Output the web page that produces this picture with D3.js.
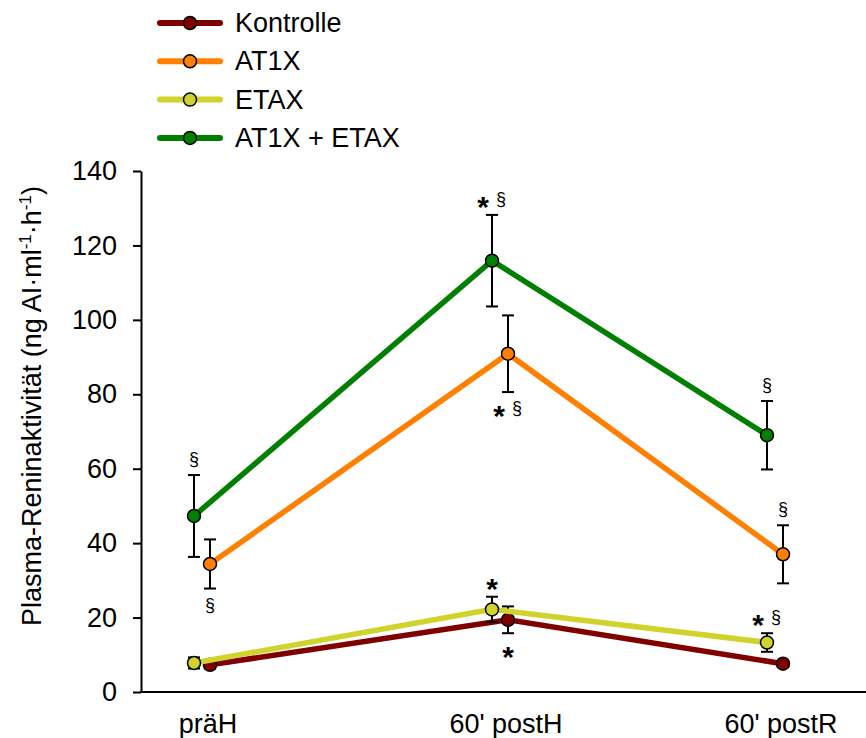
<!DOCTYPE html>
<html>
<head>
<meta charset="utf-8">
<script src="https://d3js.org/d3.v7.min.js"></script>
<style>
  body { margin: 0; background: #fff; }
  text { font-family: "Liberation Sans", Arial, sans-serif; }
</style>
</head>
<body>
<svg id="chart"></svg>
<script>
  // time points
  var categories = ["präH", "60' postH", "60' postR"];
  var yTicks = [0, 20, 40, 60, 80, 100, 120, 140];

  // group means and SE
  var seriesNames = ["Kontrolle", "AT1X", "ETAX", "AT1X + ETAX"];
  var kontrolle = [7.3, 19.4, 7.6];
  var kontrolleErr = [1.0, 3.6, 0.8];
  var at1x = [34.4, 90.9, 37.0];
  var at1xErr = [6.6, 10.3, 7.8];
  var etax = [7.8, 22.2, 13.3];
  var etaxErr = [1.5, 3.4, 2.5];
  var at1xEtax = [47.3, 115.9, 69.0];
  var at1xEtaxErr = [11.0, 12.3, 9.2];

  // significance marks per time point (* vs. präH, § vs. Kontrolle)
  var kontrolleSig = ["", "*", ""];
  var at1xSig = ["§", "*§", "§"];
  var etaxSig = ["", "*", "*§"];
  var at1xEtaxSig = ["§", "*§", "§"];
  var at1xSigSide = ["below", "below", "above"];

  var width = 866, height = 738;
  var svg = d3.select('#chart').attr('width', width).attr('height', height);

  var colors = ["#800000", "#ff8000", "#d0d32c", "#008000"];
  var offsets = [8, 8, -8, -8];

  var x = d3.scaleOrdinal().domain(categories).range([202, 500, 775]);
  var y = d3.scaleLinear().domain([0, 140]).range([692, 171]);

  var series = [
    {name: seriesNames[0], vals: kontrolle, err: kontrolleErr, sig: kontrolleSig, side: ["below", "below", "below"]},
    {name: seriesNames[1], vals: at1x, err: at1xErr, sig: at1xSig, side: at1xSigSide},
    {name: seriesNames[2], vals: etax, err: etaxErr, sig: etaxSig, side: ["above", "above", "above"]},
    {name: seriesNames[3], vals: at1xEtax, err: at1xEtaxErr, sig: at1xEtaxSig, side: ["above", "above", "above"]}
  ];

  // axes
  var yAxis = d3.axisLeft(y).tickValues(yTicks).tickSize(8).tickSizeOuter(0).tickPadding(16);
  var gy = svg.append('g').attr('transform', 'translate(141,0)').call(yAxis);
  gy.selectAll('path, line').attr('stroke', '#000').attr('stroke-width', 2);
  gy.selectAll('text').attr('font-size', 27).attr('fill', '#000')
    .style('font-family', '"Liberation Sans", Arial, sans-serif');

  svg.append('line')
    .attr('x1', 140).attr('x2', width)
    .attr('y1', y(0)).attr('y2', y(0))
    .attr('stroke', '#000').attr('stroke-width', 2);

  svg.selectAll('.xlab')
    .data(categories)
    .enter().append('text')
    .attr('class', 'xlab')
    .attr('x', function(d) { return x(d) + 6; })
    .attr('y', 733)
    .attr('text-anchor', 'middle')
    .attr('font-size', 27)
    .text(function(d) { return d; });

  // y axis title with superscripts
  var title = svg.append('text')
    .attr('transform', 'translate(41,406) rotate(-90)')
    .attr('text-anchor', 'middle')
    .attr('font-size', 27);
  title.append('tspan').text('Plasma-Reninaktivität (ng AI·ml');
  title.append('tspan').attr('font-size', 17).attr('dy', -10).text('-1');
  title.append('tspan').attr('dy', 10).text('·h');
  title.append('tspan').attr('font-size', 17).attr('dy', -10).text('-1');
  title.append('tspan').attr('dy', 10).text(')');

  var line = d3.line()
    .x(function(d) { return d.x; })
    .y(function(d) { return y(d.v); });

  series.forEach(function(s, si) {
    var pts = categories.map(function(c, i) {
      return {x: x(c) + offsets[si], v: s.vals[i], e: s.err[i], sig: s.sig[i], side: s.side[i]};
    });
    var g = svg.append('g');

    g.append('path')
      .attr('d', line(pts))
      .attr('fill', 'none')
      .attr('stroke', colors[si])
      .attr('stroke-width', 5.5);

    // error bars
    var eb = g.selectAll('.err').data(pts).enter().append('g').attr('class', 'err');
    eb.append('line')
      .attr('x1', function(d) { return d.x; }).attr('x2', function(d) { return d.x; })
      .attr('y1', function(d) { return y(d.v - d.e); })
      .attr('y2', function(d) { return y(d.v + d.e); })
      .attr('stroke', '#000').attr('stroke-width', 2);
    [1, -1].forEach(function(sgn) {
      eb.append('line')
        .attr('x1', function(d) { return d.x - 6; }).attr('x2', function(d) { return d.x + 6; })
        .attr('y1', function(d) { return y(d.v + sgn * d.e); })
        .attr('y2', function(d) { return y(d.v + sgn * d.e); })
        .attr('stroke', '#000').attr('stroke-width', 2);
    });

    g.selectAll('circle').data(pts).enter().append('circle')
      .attr('cx', function(d) { return d.x; })
      .attr('cy', function(d) { return y(d.v); })
      .attr('r', 6.5)
      .attr('fill', colors[si])
      .attr('stroke', '#000')
      .attr('stroke-width', 1.5);

    // significance marks
    pts.forEach(function(d) {
      if (!d.sig) return;
      var cy = d.side === 'above' ? y(d.v + d.e) - 15 : y(d.v - d.e) + 17;
      var marks = d.sig.split('');
      marks.forEach(function(m, mi) {
        var mx = marks.length === 2 ? d.x + (mi === 0 ? -9 : 9) : d.x;
        if (m === '*') {
          svg.append('text').attr('x', mx).attr('y', cy + 17)
            .attr('text-anchor', 'middle').attr('font-size', 30).attr('font-weight', 'bold')
            .text('*');
        } else {
          svg.append('text').attr('x', mx).attr('y', cy + 5)
            .attr('text-anchor', 'middle').attr('font-size', 18)
            .text('§');
        }
      });
    });
  });

  // legend
  var legend = svg.append('g');
  seriesNames.forEach(function(name, i) {
    var ly = 23 + i * 38.3;
    legend.append('line')
      .attr('x1', 160).attr('x2', 220).attr('y1', ly).attr('y2', ly)
      .attr('stroke', colors[i]).attr('stroke-width', 6).attr('stroke-linecap', 'round');
    legend.append('circle')
      .attr('cx', 190).attr('cy', ly).attr('r', 6.5)
      .attr('fill', colors[i]).attr('stroke', '#000').attr('stroke-width', 1.5);
    legend.append('text')
      .attr('x', 235).attr('y', ly)
      .attr('dominant-baseline', 'central')
      .attr('font-size', 27)
      .text(name);
  });
</script>
</body>
</html>
